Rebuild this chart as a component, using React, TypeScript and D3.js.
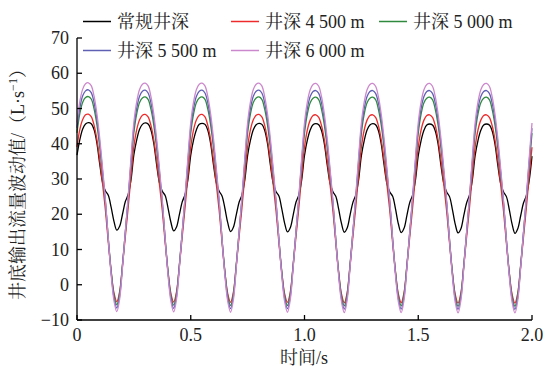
import React from "react";
import * as d3 from "d3";

// sampling step of the read-off curves (s)
const timeStep = 0.0125;

const seriesNames = ["常规井深", "井深 4 500 m", "井深 5 000 m", "井深 5 500 m", "井深 6 000 m"];
const seriesColors = ["#000000", "#ee2a2a", "#2f8a3f", "#5f5fb4", "#cc88cc"];

const xTicks = [0, 0.5, 1.0, 1.5, 2.0];
const xTickLabels = ["0", "0.5", "1.0", "1.5", "2.0"];
const yTicks = [-10, 0, 10, 20, 30, 40, 50, 60, 70];

const black = [
  36.8, 41.2, 44.2, 45.6, 46.0, 45.7, 44.0, 40.2, 34.2, 29.0, 26.6, 25.4, 22.0, 18.0, 15.5, 16.6, 20.0, 23.6, 25.6, 29.8,
  36.9, 41.1, 44.1, 45.5, 45.9, 45.6, 43.9, 40.1, 34.1, 28.9, 26.5, 25.3, 21.8, 17.8, 15.3, 16.4, 19.9, 23.5, 25.6, 29.8,
  36.8, 41.1, 44.0, 45.5, 45.8, 45.5, 43.8, 40.0, 34.0, 28.9, 26.5, 25.2, 21.7, 17.6, 15.1, 16.3, 19.8, 23.4, 25.5, 29.7,
  36.7, 41.0, 44.0, 45.4, 45.8, 45.5, 43.8, 40.0, 34.0, 28.8, 26.4, 25.2, 21.6, 17.5, 15.0, 16.2, 19.7, 23.4, 25.5, 29.7,
  36.7, 41.0, 43.9, 45.4, 45.7, 45.4, 43.7, 39.9, 33.9, 28.8, 26.4, 25.1, 21.5, 17.4, 14.9, 16.1, 19.7, 23.3, 25.4, 29.6,
  36.6, 40.9, 43.9, 45.3, 45.7, 45.4, 43.7, 39.9, 33.9, 28.7, 26.3, 25.1, 21.5, 17.3, 14.8, 16.0, 19.6, 23.3, 25.4, 29.6,
  36.6, 40.9, 43.8, 45.3, 45.6, 45.3, 43.6, 39.8, 33.8, 28.7, 26.3, 25.0, 21.4, 17.2, 14.7, 15.9, 19.6, 23.2, 25.4, 29.6,
  36.6, 40.9, 43.8, 45.3, 45.6, 45.3, 43.6, 39.8, 33.8, 28.7, 26.3, 25.0, 21.4, 17.2, 14.6, 15.9, 19.5, 23.2, 25.3, 29.5,
  36.5,
];

const red = [
  39.1, 44.1, 46.9, 48.2, 48.4, 47.7, 45.3, 41.2, 35.4, 28.5, 21.1, 12.1, 3.9, -2.3, -4.8, -1.9, 5.5, 13.7, 21.9, 30.9,
  39.2, 44.0, 46.8, 48.1, 48.3, 47.6, 45.2, 41.1, 35.3, 28.4, 21.0, 12.0, 3.8, -2.4, -4.9, -2.0, 5.4, 13.6, 21.9, 30.9,
  39.1, 44.0, 46.8, 48.1, 48.3, 47.6, 45.2, 41.1, 35.3, 28.4, 21.0, 12.0, 3.7, -2.5, -5.0, -2.1, 5.4, 13.6, 21.8, 30.8,
  39.1, 44.0, 46.8, 48.1, 48.3, 47.6, 45.2, 41.1, 35.3, 28.4, 20.9, 11.9, 3.7, -2.5, -5.0, -2.1, 5.3, 13.6, 21.8, 30.8,
  39.0, 43.9, 46.7, 48.0, 48.2, 47.5, 45.1, 41.0, 35.2, 28.3, 20.9, 11.9, 3.6, -2.6, -5.1, -2.2, 5.3, 13.5, 21.8, 30.8,
  39.0, 43.9, 46.7, 48.0, 48.2, 47.5, 45.1, 41.0, 35.2, 28.3, 20.9, 11.8, 3.6, -2.6, -5.1, -2.2, 5.2, 13.5, 21.7, 30.7,
  39.0, 43.9, 46.7, 48.0, 48.2, 47.5, 45.1, 41.0, 35.2, 28.3, 20.8, 11.8, 3.5, -2.7, -5.2, -2.3, 5.2, 13.5, 21.7, 30.7,
  39.0, 43.9, 46.7, 48.0, 48.2, 47.5, 45.1, 41.0, 35.2, 28.3, 20.8, 11.8, 3.5, -2.7, -5.2, -2.3, 5.2, 13.4, 21.7, 30.7,
  39.0,
];

const green = [
  43.1, 48.6, 51.8, 53.1, 53.4, 52.7, 49.9, 45.4, 39.0, 31.3, 23.1, 13.1, 4.0, -2.9, -5.7, -2.4, 5.8, 14.9, 24.0, 34.0,
  43.2, 48.5, 51.7, 53.0, 53.3, 52.6, 49.8, 45.3, 38.9, 31.2, 23.0, 13.0, 3.9, -3.0, -5.8, -2.5, 5.7, 14.8, 24.0, 34.0,
  43.1, 48.5, 51.7, 53.0, 53.3, 52.6, 49.8, 45.3, 38.9, 31.2, 23.0, 12.9, 3.8, -3.1, -5.9, -2.6, 5.7, 14.8, 23.9, 33.9,
  43.1, 48.5, 51.7, 53.0, 53.3, 52.6, 49.8, 45.3, 38.9, 31.2, 22.9, 12.9, 3.8, -3.1, -5.9, -2.6, 5.6, 14.8, 23.9, 33.9,
  43.0, 48.4, 51.6, 52.9, 53.2, 52.5, 49.7, 45.2, 38.8, 31.1, 22.9, 12.8, 3.7, -3.2, -6.0, -2.7, 5.6, 14.7, 23.9, 33.9,
  43.0, 48.4, 51.6, 52.9, 53.2, 52.5, 49.7, 45.2, 38.8, 31.1, 22.9, 12.8, 3.7, -3.2, -6.0, -2.7, 5.5, 14.7, 23.8, 33.8,
  43.0, 48.4, 51.6, 52.9, 53.2, 52.5, 49.7, 45.2, 38.8, 31.1, 22.8, 12.7, 3.6, -3.3, -6.1, -2.8, 5.5, 14.7, 23.8, 33.8,
  43.0, 48.4, 51.6, 52.9, 53.2, 52.5, 49.7, 45.2, 38.8, 31.1, 22.8, 12.7, 3.6, -3.3, -6.1, -2.8, 5.5, 14.6, 23.8, 33.8,
  43.0,
];

const blue = [
  44.5, 50.2, 53.6, 55.0, 55.3, 54.5, 51.7, 46.9, 40.2, 32.1, 23.5, 13.0, 3.5, -3.6, -6.6, -3.2, 5.4, 15.0, 24.5, 35.0,
  44.6, 50.1, 53.5, 54.9, 55.2, 54.4, 51.6, 46.8, 40.1, 32.0, 23.4, 12.9, 3.4, -3.7, -6.7, -3.3, 5.3, 14.9, 24.5, 35.0,
  44.5, 50.1, 53.5, 54.9, 55.2, 54.4, 51.6, 46.8, 40.1, 32.0, 23.4, 12.8, 3.3, -3.8, -6.8, -3.4, 5.3, 14.9, 24.4, 34.9,
  44.5, 50.1, 53.5, 54.9, 55.2, 54.4, 51.6, 46.8, 40.1, 32.0, 23.3, 12.8, 3.3, -3.8, -6.8, -3.4, 5.2, 14.9, 24.4, 34.9,
  44.4, 50.0, 53.4, 54.8, 55.1, 54.3, 51.5, 46.7, 40.0, 31.9, 23.3, 12.7, 3.2, -3.9, -6.9, -3.5, 5.2, 14.8, 24.4, 34.9,
  44.4, 50.0, 53.4, 54.8, 55.1, 54.3, 51.5, 46.7, 40.0, 31.9, 23.3, 12.7, 3.2, -3.9, -6.9, -3.5, 5.1, 14.8, 24.3, 34.8,
  44.4, 50.0, 53.4, 54.8, 55.1, 54.3, 51.5, 46.7, 40.0, 31.9, 23.2, 12.6, 3.1, -4.0, -7.0, -3.6, 5.1, 14.8, 24.3, 34.8,
  44.4, 50.0, 53.4, 54.8, 55.1, 54.3, 51.5, 46.7, 40.0, 31.9, 23.2, 12.6, 3.1, -4.0, -7.0, -3.6, 5.1, 14.7, 24.3, 34.8,
  44.4,
];

const pink = [
  46.0, 52.0, 55.5, 57.0, 57.3, 56.5, 53.5, 48.5, 41.5, 33.0, 24.0, 13.0, 3.0, -4.5, -7.6, -4.0, 5.0, 15.0, 25.0, 36.0,
  46.1, 51.9, 55.4, 56.9, 57.2, 56.4, 53.4, 48.4, 41.4, 32.9, 23.9, 12.9, 2.9, -4.6, -7.7, -4.1, 4.9, 14.9, 25.0, 36.0,
  46.0, 51.9, 55.4, 56.9, 57.2, 56.4, 53.4, 48.4, 41.4, 32.9, 23.9, 12.8, 2.8, -4.7, -7.8, -4.2, 4.9, 14.9, 24.9, 35.9,
  46.0, 51.9, 55.4, 56.9, 57.2, 56.4, 53.4, 48.4, 41.4, 32.9, 23.8, 12.8, 2.8, -4.7, -7.8, -4.2, 4.8, 14.9, 24.9, 35.9,
  45.9, 51.8, 55.3, 56.8, 57.1, 56.3, 53.3, 48.3, 41.3, 32.8, 23.8, 12.7, 2.7, -4.8, -7.9, -4.3, 4.8, 14.8, 24.9, 35.9,
  45.9, 51.8, 55.3, 56.8, 57.1, 56.3, 53.3, 48.3, 41.3, 32.8, 23.8, 12.7, 2.7, -4.8, -7.9, -4.3, 4.7, 14.8, 24.8, 35.8,
  45.9, 51.8, 55.3, 56.8, 57.1, 56.3, 53.3, 48.3, 41.3, 32.8, 23.7, 12.6, 2.6, -4.9, -8.0, -4.4, 4.7, 14.8, 24.8, 35.8,
  45.9, 51.8, 55.3, 56.8, 57.1, 56.3, 53.3, 48.3, 41.3, 32.8, 23.7, 12.6, 2.6, -4.9, -8.0, -4.4, 4.7, 14.7, 24.8, 35.8,
  45.9,
];

const seriesValues = [black, red, green, blue, pink];

const FONT = "'Liberation Serif', 'Times New Roman', 'Noto Serif CJK SC', 'Noto Sans CJK SC', serif";

export default function App() {
  const W = 544;
  const H = 369;
  const x = d3.scaleLinear().domain([0, 2]).range([77, 532]);
  const y = d3.scaleLinear().domain([-10, 70]).range([320, 38]);

  const line = d3
    .line<number>()
    .x((_, i) => x(i * timeStep))
    .y((d) => y(d))
    .curve(d3.curveCatmullRom.alpha(0.5));

  const legendItems = [
    { lx: 83, ly: 21.5, tx: 117 },
    { lx: 231, ly: 21.5, tx: 265 },
    { lx: 379, ly: 21.5, tx: 413 },
    { lx: 83, ly: 50.5, tx: 117 },
    { lx: 231, ly: 50.5, tx: 265 },
  ];

  return (
    <svg
      width={W}
      height={H}
      viewBox={`0 0 ${W} ${H}`}
      style={{ position: "absolute", left: 0, top: 0, background: "#fff" }}
      fontFamily={FONT}
    >
      <rect x={0} y={0} width={W} height={H} fill="#fff" />
      {/* curves */}
      {seriesValues.map((vals, i) => (
        <path
          key={i}
          d={line(vals) || ""}
          fill="none"
          stroke={seriesColors[i]}
          strokeWidth={1.3}
        />
      ))}

      {/* axes */}
      <line x1={x(0)} x2={x(0)} y1={y(70)} y2={y(-10)} stroke="#000" strokeWidth={1.3} />
      <line x1={x(0)} x2={x(2)} y1={y(-10)} y2={y(-10)} stroke="#000" strokeWidth={1.3} />
      {yTicks.map((t) => (
        <g key={t}>
          <line x1={x(0)} x2={x(0) + 5} y1={y(t)} y2={y(t)} stroke="#000" strokeWidth={1.3} />
          <text
            x={x(0) - 8}
            y={y(t)}
            textAnchor="end"
            dominantBaseline="central"
            fontSize={18}
            fill="#222"
          >
            {t < 0 ? `\u2212${Math.abs(t)}` : t}
          </text>
        </g>
      ))}
      {xTicks.map((t, i) => (
        <g key={t}>
          <line x1={x(t)} x2={x(t)} y1={y(-10)} y2={y(-10) - 5} stroke="#000" strokeWidth={1.3} />
          <text x={x(t)} y={y(-10) + 21} textAnchor="middle" fontSize={18} fill="#222">
            {xTickLabels[i]}
          </text>
        </g>
      ))}

      {/* axis titles */}
      <text x={304} y={364} textAnchor="middle" fontSize={18} fill="#222">
        时间/s
      </text>
      <text
        transform="translate(24,180) rotate(-90)"
        textAnchor="middle"
        fontSize={18}
        fill="#222"
      >
        井底输出流量波动值/（L·s
        <tspan fontSize={12} dy={-7}>
          −1
        </tspan>
        <tspan dy={7}>）</tspan>
      </text>

      {/* legend */}
      {legendItems.map((it, i) => (
        <g key={i}>
          <line
            x1={it.lx}
            x2={it.lx + 28}
            y1={it.ly}
            y2={it.ly}
            stroke={seriesColors[i]}
            strokeWidth={1.5}
          />
          <text x={it.tx} y={it.ly} dominantBaseline="central" fontSize={18} fill="#222">
            {seriesNames[i]}
          </text>
        </g>
      ))}
    </svg>
  );
}
